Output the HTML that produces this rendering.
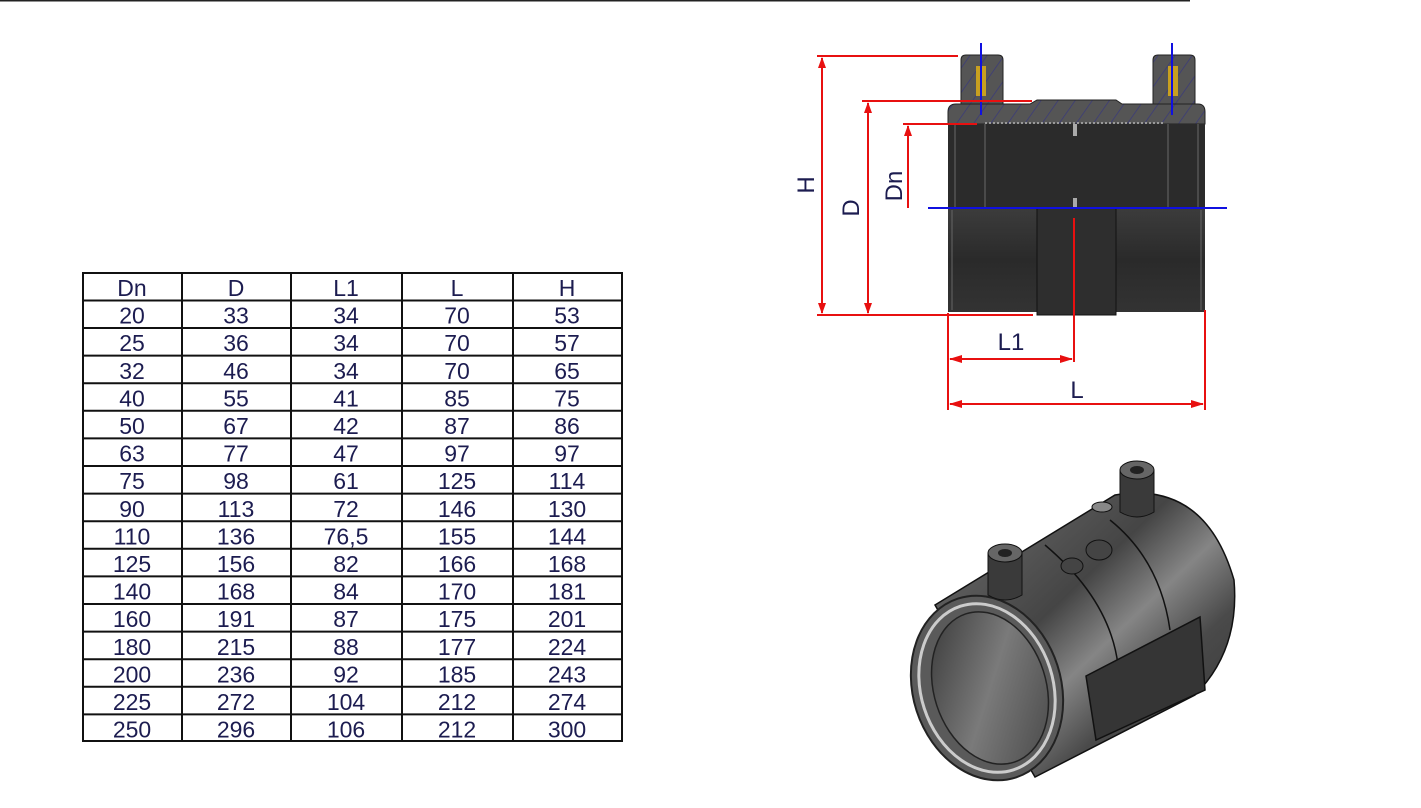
<!DOCTYPE html>
<html><head><meta charset="utf-8"><style>
html,body{margin:0;padding:0;background:#fff;width:1421px;height:808px;overflow:hidden}
svg{display:block}
</style></head><body>
<svg width="1421" height="808" xmlns="http://www.w3.org/2000/svg" font-family="Liberation Sans, Arial, sans-serif">
<defs>
<pattern id="hatch" width="14" height="14" patternUnits="userSpaceOnUse" patternTransform="rotate(35)">
<rect width="14" height="14" fill="#555"/><line x1="0" y1="0" x2="0" y2="14" stroke="#3a3a7a" stroke-width="1.5"/>
</pattern>
<linearGradient id="bodyg" x1="0" y1="0" x2="0" y2="1">
<stop offset="0" stop-color="#3c3c3c"/><stop offset="0.5" stop-color="#2a2a2a"/><stop offset="1" stop-color="#333"/>
</linearGradient>
<linearGradient id="iso" x1="0" y1="0" x2="1" y2="1">
<stop offset="0" stop-color="#707070"/><stop offset="0.4" stop-color="#454545"/><stop offset="0.55" stop-color="#858585"/><stop offset="0.7" stop-color="#4a4a4a"/><stop offset="1" stop-color="#333"/>
</linearGradient>
<linearGradient id="inner" x1="0" y1="0" x2="1" y2="1">
<stop offset="0" stop-color="#333"/><stop offset="0.5" stop-color="#7a7a7a"/><stop offset="1" stop-color="#444"/>
</linearGradient>
</defs>
<line x1="0" y1="0.5" x2="1190" y2="0.5" stroke="#222" stroke-width="2"/>

<g stroke="#111" stroke-width="2" fill="none">
<rect x="83" y="273" width="539" height="468"/>
<line x1="182" y1="273" x2="182" y2="741"/><line x1="291" y1="273" x2="291" y2="741"/>
<line x1="402" y1="273" x2="402" y2="741"/><line x1="513" y1="273" x2="513" y2="741"/>
<line x1="83" y1="300.5" x2="622" y2="300.5"/><line x1="83" y1="328" x2="622" y2="328"/>
<line x1="83" y1="355.6" x2="622" y2="355.6"/><line x1="83" y1="383.2" x2="622" y2="383.2"/>
<line x1="83" y1="410.8" x2="622" y2="410.8"/><line x1="83" y1="438.4" x2="622" y2="438.4"/>
<line x1="83" y1="466" x2="622" y2="466"/><line x1="83" y1="493.6" x2="622" y2="493.6"/>
<line x1="83" y1="521.2" x2="622" y2="521.2"/><line x1="83" y1="548.8" x2="622" y2="548.8"/>
<line x1="83" y1="576.4" x2="622" y2="576.4"/><line x1="83" y1="604" x2="622" y2="604"/>
<line x1="83" y1="631.6" x2="622" y2="631.6"/><line x1="83" y1="659.2" x2="622" y2="659.2"/>
<line x1="83" y1="686.8" x2="622" y2="686.8"/><line x1="83" y1="714.4" x2="622" y2="714.4"/>
</g>
<g fill="#1c1c50" font-size="23" text-anchor="middle">
<g transform="translate(0,296)"><text x="132">Dn</text><text x="236">D</text><text x="346">L1</text><text x="457">L</text><text x="567">H</text></g>
<g transform="translate(0,323.6)"><text x="132">20</text><text x="236">33</text><text x="346">34</text><text x="457">70</text><text x="567">53</text></g>
<g transform="translate(0,351.2)"><text x="132">25</text><text x="236">36</text><text x="346">34</text><text x="457">70</text><text x="567">57</text></g>
<g transform="translate(0,378.8)"><text x="132">32</text><text x="236">46</text><text x="346">34</text><text x="457">70</text><text x="567">65</text></g>
<g transform="translate(0,406.4)"><text x="132">40</text><text x="236">55</text><text x="346">41</text><text x="457">85</text><text x="567">75</text></g>
<g transform="translate(0,434)"><text x="132">50</text><text x="236">67</text><text x="346">42</text><text x="457">87</text><text x="567">86</text></g>
<g transform="translate(0,461.6)"><text x="132">63</text><text x="236">77</text><text x="346">47</text><text x="457">97</text><text x="567">97</text></g>
<g transform="translate(0,489.2)"><text x="132">75</text><text x="236">98</text><text x="346">61</text><text x="457">125</text><text x="567">114</text></g>
<g transform="translate(0,516.8)"><text x="132">90</text><text x="236">113</text><text x="346">72</text><text x="457">146</text><text x="567">130</text></g>
<g transform="translate(0,544.4)"><text x="132">110</text><text x="236">136</text><text x="346">76,5</text><text x="457">155</text><text x="567">144</text></g>
<g transform="translate(0,572)"><text x="132">125</text><text x="236">156</text><text x="346">82</text><text x="457">166</text><text x="567">168</text></g>
<g transform="translate(0,599.6)"><text x="132">140</text><text x="236">168</text><text x="346">84</text><text x="457">170</text><text x="567">181</text></g>
<g transform="translate(0,627.2)"><text x="132">160</text><text x="236">191</text><text x="346">87</text><text x="457">175</text><text x="567">201</text></g>
<g transform="translate(0,654.8)"><text x="132">180</text><text x="236">215</text><text x="346">88</text><text x="457">177</text><text x="567">224</text></g>
<g transform="translate(0,682.4)"><text x="132">200</text><text x="236">236</text><text x="346">92</text><text x="457">185</text><text x="567">243</text></g>
<g transform="translate(0,710)"><text x="132">225</text><text x="236">272</text><text x="346">104</text><text x="457">212</text><text x="567">274</text></g>
<g transform="translate(0,737.6)"><text x="132">250</text><text x="236">296</text><text x="346">106</text><text x="457">212</text><text x="567">300</text></g>
</g>

<g>
<path d="M961 60 Q961 55 966 55 L998 55 Q1003 55 1003 60 L1003 106 L961 106 Z" fill="url(#hatch)" stroke="#222"/>
<path d="M1153 60 Q1153 55 1158 55 L1190 55 Q1195 55 1195 60 L1195 106 L1153 106 Z" fill="url(#hatch)" stroke="#222"/>
<rect x="976" y="66" width="10" height="30" fill="#c8a020"/><rect x="1168" y="66" width="10" height="30" fill="#c8a020"/>
<path d="M948 112 Q948 104 956 104 L1030 104 L1037 100 L1116 100 L1122 104 L1198 104 Q1205 104 1205 112 L1205 124 L948 124 Z" fill="url(#hatch)" stroke="#222"/>
<line x1="985" y1="123" x2="1165" y2="123" stroke="#999" stroke-width="2" stroke-dasharray="2,2"/>
<rect x="948" y="124" width="257" height="84" fill="#2b2b2b"/>
<g stroke="#555" stroke-width="1.5"><line x1="955" y1="124" x2="955" y2="208"/><line x1="985" y1="124" x2="985" y2="208"/><line x1="1168" y1="124" x2="1168" y2="208"/><line x1="1198" y1="124" x2="1198" y2="208"/></g>
<rect x="1073" y="124" width="4" height="12" fill="#aaa"/><rect x="1073" y="198" width="4" height="10" fill="#aaa"/>
<rect x="948" y="208" width="257" height="104" fill="url(#bodyg)"/>
<rect x="1037" y="208" width="79" height="107" fill="#2e2e2e" stroke="#111"/>
<line x1="952" y1="210" x2="952" y2="310" stroke="#666"/><line x1="1201" y1="210" x2="1201" y2="310" stroke="#666"/>
<g stroke="#1010e0" stroke-width="2">
<line x1="928" y1="208" x2="1227" y2="208"/>
<line x1="981" y1="43" x2="981" y2="115"/><line x1="1172" y1="43" x2="1172" y2="115"/>
</g>
<g stroke="#e81010" stroke-width="2" fill="none">
<line x1="817" y1="56" x2="958" y2="56"/><line x1="817" y1="315" x2="1033" y2="315"/>
<line x1="822" y1="58" x2="822" y2="313"/>
<line x1="862" y1="101" x2="1032" y2="101"/><line x1="868" y1="103" x2="868" y2="313"/>
<line x1="903" y1="124" x2="977" y2="124"/><line x1="908" y1="126" x2="908" y2="208"/>
<line x1="948" y1="313" x2="948" y2="410"/><line x1="1205" y1="310" x2="1205" y2="410"/>
<line x1="1074" y1="218" x2="1074" y2="362"/>
<line x1="950" y1="359" x2="1072" y2="359"/><line x1="950" y1="404" x2="1203" y2="404"/>
</g>
<g fill="#e81010">
<polygon points="822,57 818,68 826,68"/><polygon points="822,314 818,303 826,303"/>
<polygon points="868,102 864,113 872,113"/><polygon points="868,314 864,303 872,303"/>
<polygon points="908,125 904,136 912,136"/>
<polygon points="949,359 962,355 962,363"/><polygon points="1073,359 1060,355 1060,363"/>
<polygon points="949,404 962,400 962,408"/><polygon points="1204,404 1191,400 1191,408"/>
</g>
<g fill="#1c1c50" font-size="24" text-anchor="middle">
<text transform="translate(814,185) rotate(-90)">H</text>
<text transform="translate(859,208) rotate(-90)">D</text>
<text transform="translate(902,186) rotate(-90)">Dn</text>
<text x="1011" y="350">L1</text>
<text x="1077" y="398">L</text>
</g>
</g>

<g>
<path d="M935 605 L1115 495 Q1205 480 1234 580 Q1240 650 1195 695 L1035 777 Z" fill="url(#iso)" stroke="#111" stroke-width="1.5"/>
<ellipse cx="987" cy="688" rx="74" ry="94" transform="rotate(-18 987 688)" fill="#5a5a5a" stroke="#222" stroke-width="2"/>
<ellipse cx="987" cy="688" rx="66" ry="86" transform="rotate(-18 987 688)" fill="none" stroke="#ccc" stroke-width="3"/>
<ellipse cx="990" cy="688" rx="56" ry="78" transform="rotate(-18 990 688)" fill="url(#inner)" stroke="#222" stroke-width="1.5"/>
<path d="M1045 545 Q1110 600 1118 665" fill="none" stroke="#111" stroke-width="1.5"/>
<path d="M1110 520 Q1160 560 1170 630" fill="none" stroke="#111" stroke-width="1.5"/>
<path d="M1086 676 L1200 617 L1205 690 L1096 740 Z" fill="#353535" stroke="#111" stroke-width="1.5"/>
<ellipse cx="1072" cy="566" rx="11" ry="8" fill="#444" stroke="#111"/>
<ellipse cx="1099" cy="550" rx="13" ry="10" fill="#444" stroke="#111"/>
<path d="M988 553 L988 595 Q1005 605 1022 595 L1022 553 Z" fill="#3a3a3a" stroke="#111"/>
<ellipse cx="1005" cy="553" rx="17" ry="9" fill="#666" stroke="#111"/><ellipse cx="1005" cy="553" rx="7" ry="4" fill="#222"/>
<path d="M1120 470 L1120 512 Q1137 522 1154 512 L1154 470 Z" fill="#3a3a3a" stroke="#111"/>
<ellipse cx="1137" cy="470" rx="17" ry="9" fill="#666" stroke="#111"/><ellipse cx="1137" cy="470" rx="7" ry="4" fill="#222"/>
<ellipse cx="1102" cy="507" rx="10" ry="5" fill="#888" stroke="#111"/>
</g>
</svg>
</body></html>
